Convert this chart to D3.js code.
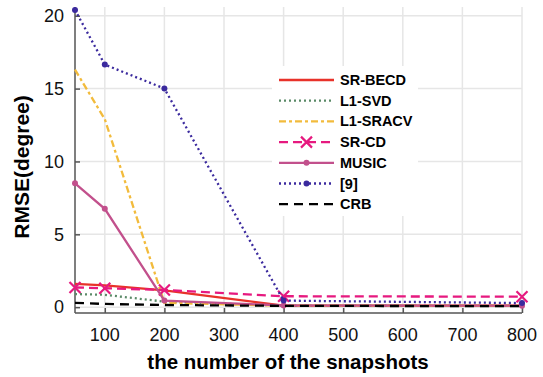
<!DOCTYPE html>
<html>
<head>
<meta charset="utf-8">
<script src="https://cdn.jsdelivr.net/npm/d3@7"></script>
<style>
  body { margin: 0; background: #fff; }
  svg { display: block; font-family: "Liberation Sans", Arial, sans-serif; }
</style>
</head>
<body>
<svg id="chart" width="543" height="377"></svg>
<script>
// snapshots on the x axis
const snapshots = [50, 100, 200, 400, 800];

// RMSE values
const srBecd = [1.6, 1.5, 1.15, 0.1, 0.1];
const l1Svd = [0.9, 0.85, 0.38, 0.1, 0.1];
const l1Sracv = [16.3, 12.9, 0.3, 0.1, 0.1];
const srCd = [1.35, 1.3, 1.18, 0.75, 0.72];
const music = [8.5, 6.75, 0.45, 0.12, 0.1];
const ref9 = [20.4, 16.65, 15.0, 0.45, 0.28];
const crb = [0.3, 0.22, 0.15, 0.09, 0.07];

const xTicks = [100, 200, 300, 400, 500, 600, 700, 800];
const yTicks = [0, 5, 10, 15, 20];

const series = [
  { name: "SR-BECD", values: srBecd, color: "#e8322a", dash: null, marker: null },
  { name: "L1-SVD", values: l1Svd, color: "#5b8a68", dash: "2,3", marker: null },
  { name: "L1-SRACV", values: l1Sracv, color: "#f2bb3c", dash: "7,3,3,3", marker: null },
  { name: "SR-CD", values: srCd, color: "#e6197f", dash: "9,5", marker: "x" },
  { name: "MUSIC", values: music, color: "#c2508c", dash: null, marker: "dot" },
  { name: "[9]", values: ref9, color: "#3b2a9e", dash: "2,3", marker: "dot" },
  { name: "CRB", values: crb, color: "#000000", dash: "9,6", marker: null }
];

const svg = d3.select("#chart");
const mLeft = 75, mRight = 522, mTop = 7, mBottom = 313;

const x = d3.scaleLinear().domain([50, 800]).range([mLeft, mRight]);
const y = d3.scaleLinear().domain([-0.4, 20.6]).range([mBottom, mTop]);

// grid
svg.append("g")
  .selectAll("line")
  .data(xTicks)
  .join("line")
  .attr("x1", (d) => x(d)).attr("x2", (d) => x(d))
  .attr("y1", mTop).attr("y2", mBottom)
  .attr("stroke", "#e6e6e6").attr("stroke-width", 1.5);

svg.append("g")
  .selectAll("line")
  .data(yTicks)
  .join("line")
  .attr("x1", mLeft).attr("x2", mRight)
  .attr("y1", (d) => y(d)).attr("y2", (d) => y(d))
  .attr("stroke", "#e6e6e6").attr("stroke-width", 1.5);

// axes, ticks inside like matlab
const xAxis = d3.axisTop(x).tickValues(xTicks).tickSize(5).tickSizeOuter(0).tickFormat("");
const yAxis = d3.axisRight(y).tickValues(yTicks).tickSize(5).tickSizeOuter(0).tickFormat("");

const gx = svg.append("g").attr("transform", `translate(0,${mBottom})`).call(xAxis);
const gy = svg.append("g").attr("transform", `translate(${mLeft},0)`).call(yAxis);
[gx, gy].forEach((g) => {
  g.select(".domain").attr("stroke", "#555").attr("stroke-width", 1.5);
  g.selectAll(".tick line").attr("stroke", "#555").attr("stroke-width", 1.5);
});
gx.select(".domain").attr("d", `M${mLeft},0H${mRight}`);
gy.select(".domain").attr("d", `M0,${mTop}V${mBottom}`);

svg.append("g")
  .selectAll("text")
  .data(xTicks)
  .join("text")
  .attr("x", (d) => x(d))
  .attr("y", 341)
  .attr("text-anchor", "middle")
  .attr("font-size", 18)
  .attr("fill", "#111")
  .text((d) => d);

svg.append("g")
  .selectAll("text")
  .data(yTicks)
  .join("text")
  .attr("x", 64)
  .attr("y", (d) => y(d))
  .attr("dy", "0.35em")
  .attr("text-anchor", "end")
  .attr("font-size", 18)
  .attr("fill", "#111")
  .text((d) => d);

svg.append("text")
  .attr("x", 288)
  .attr("y", 369)
  .attr("text-anchor", "middle")
  .attr("font-size", 20.5)
  .attr("font-weight", "bold")
  .text("the number of the snapshots");

svg.append("text")
  .attr("transform", "translate(29,167) rotate(-90)")
  .attr("text-anchor", "middle")
  .attr("font-size", 21)
  .attr("font-weight", "bold")
  .text("RMSE(degree)");

// lines
const line = d3.line().x((d) => x(d[0])).y((d) => y(d[1]));

function drawMarker(g, kind, cx, cy, color) {
  if (kind === "x") {
    const s = 5.5;
    g.append("path")
      .attr("d", `M${cx - s},${cy - s}L${cx + s},${cy + s}M${cx - s},${cy + s}L${cx + s},${cy - s}`)
      .attr("stroke", color).attr("stroke-width", 2.2).attr("fill", "none");
  } else if (kind === "dot") {
    g.append("circle").attr("cx", cx).attr("cy", cy).attr("r", 3).attr("fill", color);
  }
}

const plot = svg.append("g");
series.forEach((s) => {
  const pts = snapshots.map((v, i) => [v, s.values[i]]);
  plot.append("path")
    .datum(pts)
    .attr("d", line)
    .attr("fill", "none")
    .attr("stroke", s.color)
    .attr("stroke-width", 2.3)
    .attr("stroke-dasharray", s.dash);
  if (s.marker) {
    const mg = plot.append("g");
    pts.forEach((p) => drawMarker(mg, s.marker, x(p[0]), y(p[1]), s.color));
  }
});

// legend
const legend = svg.append("g");
legend.append("rect")
  .attr("x", 272).attr("y", 66)
  .attr("width", 146).attr("height", 150)
  .attr("fill", "#fff");

series.forEach((s, i) => {
  const ly = 80 + i * 20.7;
  legend.append("line")
    .attr("x1", 279).attr("x2", 334)
    .attr("y1", ly).attr("y2", ly)
    .attr("stroke", s.color)
    .attr("stroke-width", 2.3)
    .attr("stroke-dasharray", s.dash);
  if (s.marker) drawMarker(legend, s.marker, 306.5, ly, s.color);
  legend.append("text")
    .attr("x", 340)
    .attr("y", ly)
    .attr("dy", "0.35em")
    .attr("font-size", 14.5)
    .attr("font-weight", "bold")
    .text(s.name);
});
</script>
</body>
</html>
